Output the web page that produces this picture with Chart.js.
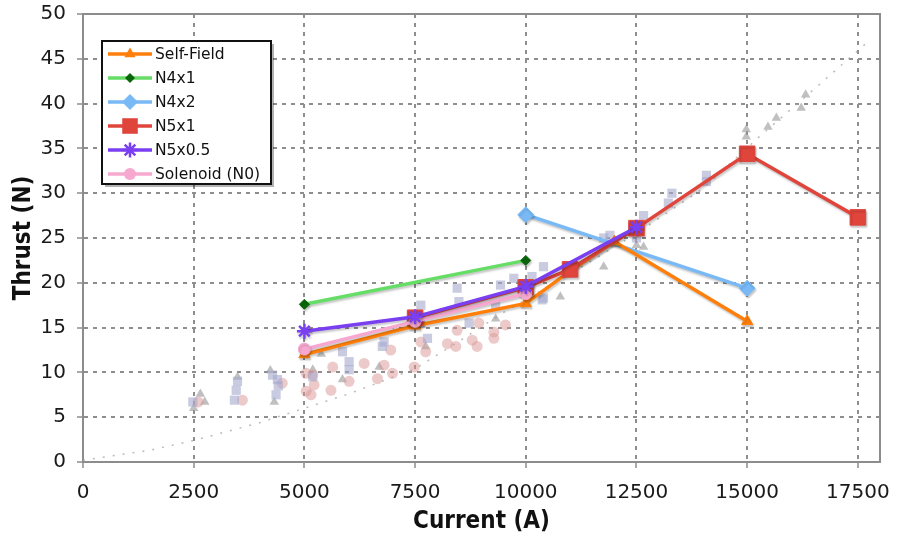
<!DOCTYPE html>
<html>
<head>
<meta charset="utf-8">
<script src="https://cdn.jsdelivr.net/npm/chart.js@4"></script>
<style>
  html, body { margin: 0; padding: 0; background: #fff; }
  #wrap { width: 897px; height: 539px; position: relative; }
</style>
</head>
<body>
<div id="wrap"><canvas id="c"></canvas></div>
<script>
// Thrust vs. current for each applied-field configuration
const selfFieldI = [5000, 7500, 10000, 11000, 12000, 15000];
const selfFieldT = [12.0, 15.2, 17.7, 21.3, 24.6, 15.7];

const n4x1I = [5000, 10000];
const n4x1T = [17.6, 22.5];

const n4x2I = [10000, 15000];
const n4x2T = [27.6, 19.4];

const n5x1I = [7500, 10000, 11000, 12500, 15000, 17500];
const n5x1T = [16.1, 19.5, 21.5, 26.1, 34.4, 27.3];

const n5x05I = [5000, 7500, 10000, 12500];
const n5x05T = [14.6, 16.2, 19.6, 26.2];

const solenoidI = [5000, 7500, 10000];
const solenoidT = [12.6, 15.7, 18.8];

// Earlier measurements shown faintly underneath
const olderTriI = [2650, 2750, 2500, 3490, 4230, 4320, 5190, 5380, 5860, 6690, 7740, 9320, 10780, 11760, 12500, 12660, 14980, 14980, 15470, 15660, 16220, 16320];
const olderTriT = [7.6, 6.7, 6.0, 9.5, 10.2, 6.7, 10.3, 12.05, 9.2, 10.6, 12.9, 16.0, 18.45, 21.8, 24.2, 24.0, 37.1, 36.3, 37.4, 38.4, 39.5, 41.0];

const olderSqI = [2480, 3490, 3460, 3420, 4280, 4390, 4410, 4360, 5190, 5860, 6010, 6010, 6800, 6760, 7630, 7630, 7780, 8450, 8490, 8720, 9320, 9430, 9730, 10140, 10370, 10400, 10400, 11760, 11900, 12500, 12660, 13220, 13300, 14080, 14080];
const olderSqT = [6.7, 9.0, 8.0, 6.9, 9.7, 9.2, 8.5, 7.5, 9.5, 12.3, 11.2, 10.3, 13.4, 12.9, 17.5, 15.5, 13.8, 19.4, 17.9, 15.5, 17.5, 19.75, 20.5, 20.7, 18.1, 21.8, 18.3, 25.0, 25.3, 25.0, 27.5, 28.9, 30.0, 32.0, 31.3];

const olderCirI = [2600, 3600, 4500, 5040, 5190, 5220, 5040, 5150, 5640, 5600, 6010, 6350, 6650, 6800, 6950, 6990, 7480, 7630, 7740, 8230, 8450, 8420, 8790, 8900, 8940, 9280, 9280, 9540];
const olderCirT = [6.7, 6.9, 8.8, 9.9, 9.7, 8.6, 7.9, 7.5, 10.6, 8.0, 9.0, 11.0, 9.3, 10.8, 12.5, 9.9, 10.6, 13.4, 12.3, 13.2, 14.7, 12.9, 13.6, 12.9, 15.5, 14.5, 13.8, 15.3];

// Faint dotted reference curve
const refCurveI = [0, 1500, 2500, 4000, 5000, 6000, 7500, 8500, 9500, 11000, 12500, 14000, 15250, 16600, 17750];
const refCurveT = [0.2, 1.3, 2.4, 4.4, 6.0, 7.6, 10.4, 13.5, 16.7, 21.0, 25.5, 30.5, 36.2, 42.0, 47.0];

const xTicks = [0, 2500, 5000, 7500, 10000, 12500, 15000, 17500];
const yTicks = [0, 5, 10, 15, 20, 25, 30, 35, 40, 45, 50];

const pts = (xs, ys) => xs.map((x, i) => ({ x: x, y: ys[i] }));

function series(label, xs, ys, line, marker, style, radius, order) {
  return {
    label: label,
    data: pts(xs, ys),
    borderColor: line,
    backgroundColor: marker,
    pointBackgroundColor: marker,
    pointBorderColor: marker,
    pointStyle: style,
    pointRadius: radius,
    pointBorderWidth: style === 'star' ? 2.5 : 1,
    borderWidth: 3.5,
    tension: 0,
    order: order,
    showLine: true,
    inLegend: true
  };
}

function faint(xs, ys, color, style, radius) {
  return {
    label: '',
    data: pts(xs, ys),
    showLine: false,
    pointStyle: style,
    pointRadius: radius,
    pointBackgroundColor: color,
    pointBorderColor: color,
    pointBorderWidth: 0,
    order: 50,
    inLegend: false
  };
}

const datasets = [
  series('Self-Field', selfFieldI, selfFieldT, '#ff7f0a', '#ff7f0a', 'triangle', 6.5, 4),
  series('N4x1', n4x1I, n4x1T, '#66dd66', '#0b650b', 'rectRot', 5, 5),
  series('N4x2', n4x2I, n4x2T, '#78b9f6', '#78b9f6', 'rectRot', 8, 6),
  series('N5x1', n5x1I, n5x1T, '#e0453c', '#e0453c', 'rect', 11, 3),
  series('N5x0.5', n5x05I, n5x05T, '#7b3ff2', '#7b3ff2', 'star', 7.5, 1),
  series('Solenoid (N0)', solenoidI, solenoidT, '#f7a8d0', '#f7a8d0', 'circle', 6, 2),
  faint(olderSqI, olderSqT, 'rgba(165,168,205,0.6)', 'rect', 6.5),
  faint(olderCirI, olderCirT, 'rgba(220,150,150,0.5)', 'circle', 5.5),
  faint(olderTriI, olderTriT, 'rgba(150,150,150,0.6)', 'triangle', 5.5),
  {
    label: '',
    data: pts(refCurveI, refCurveT),
    showLine: true,
    borderColor: 'rgba(170,170,170,0.8)',
    borderWidth: 1.5,
    borderDash: [2, 8],
    pointRadius: 0,
    order: 60,
    inLegend: false
  }
];

// Drop shadow under the main series
const shadowPlugin = {
  id: 'markerShadow',
  beforeDatasetDraw(chart, args) {
    const ds = chart.data.datasets[args.index];
    if (!ds.inLegend) return;
    const ctx = chart.ctx;
    ctx.save();
    ctx.shadowColor = 'rgba(0,0,0,0.22)';
    ctx.shadowOffsetX = 1;
    ctx.shadowOffsetY = 2;
    ctx.shadowBlur = 2;
  },
  afterDatasetDraw(chart, args) {
    const ds = chart.data.datasets[args.index];
    if (!ds.inLegend) return;
    chart.ctx.restore();
  }
};

// Plot frame on the top and right sides
const framePlugin = {
  id: 'frame',
  afterDraw(chart) {
    const a = chart.chartArea, ctx = chart.ctx;
    ctx.save();
    ctx.strokeStyle = '#8c8c8c';
    ctx.lineWidth = 2;
    ctx.beginPath();
    ctx.moveTo(a.left, a.top);
    ctx.lineTo(a.right, a.top);
    ctx.lineTo(a.right, a.bottom);
    ctx.stroke();
    ctx.restore();
  }
};

function drawMarker(ctx, style, x, y, r, color, bw) {
  ctx.save();
  ctx.fillStyle = color;
  ctx.strokeStyle = color;
  ctx.lineWidth = bw;
  ctx.beginPath();
  if (style === 'triangle') {
    for (let k = 0; k < 3; k++) {
      const ang = -Math.PI / 2 + k * 2 * Math.PI / 3;
      const px = x + Math.cos(ang) * r, py = y + Math.sin(ang) * r;
      if (k === 0) ctx.moveTo(px, py); else ctx.lineTo(px, py);
    }
    ctx.closePath(); ctx.fill();
  } else if (style === 'rectRot') {
    ctx.moveTo(x, y - r); ctx.lineTo(x + r, y); ctx.lineTo(x, y + r); ctx.lineTo(x - r, y);
    ctx.closePath(); ctx.fill();
  } else if (style === 'rect') {
    const s = r * Math.SQRT1_2;
    ctx.rect(x - s, y - s, 2 * s, 2 * s); ctx.fill();
  } else if (style === 'circle') {
    ctx.arc(x, y, r, 0, Math.PI * 2); ctx.fill();
  } else if (style === 'star') {
    for (let k = 0; k < 4; k++) {
      const ang = k * Math.PI / 4;
      ctx.moveTo(x - Math.cos(ang) * r, y - Math.sin(ang) * r);
      ctx.lineTo(x + Math.cos(ang) * r, y + Math.sin(ang) * r);
    }
    ctx.stroke();
  }
  ctx.restore();
}

// Boxed legend in the upper-left corner of the plot
const legendPlugin = {
  id: 'boxLegend',
  afterDraw(chart) {
    const ctx = chart.ctx;
    const items = chart.data.datasets.filter(d => d.inLegend);
    const bx = 102, by = 41, bw = 169, bh = 143;
    ctx.save();
    ctx.fillStyle = 'rgba(0,0,0,0.3)';
    ctx.fillRect(bx + 3, by + 3, bw, bh);
    ctx.fillStyle = '#fff';
    ctx.fillRect(bx, by, bw, bh);
    ctx.strokeStyle = '#111';
    ctx.lineWidth = 2;
    ctx.strokeRect(bx, by, bw, bh);
    ctx.font = '15.5px "DejaVu Sans"';
    ctx.textBaseline = 'middle';
    ctx.textAlign = 'left';
    items.forEach((d, i) => {
      const y = 54 + i * 24;
      ctx.strokeStyle = d.borderColor;
      ctx.lineWidth = 3.5;
      ctx.beginPath();
      ctx.moveTo(108, y);
      ctx.lineTo(152, y);
      ctx.stroke();
      drawMarker(ctx, d.pointStyle, 130, y, d.pointRadius, d.pointBackgroundColor, d.pointBorderWidth);
      ctx.fillStyle = '#111';
      ctx.fillText(d.label, 155, y + 1);
    });
    ctx.restore();
  }
};

const gridStyle = { color: '#8e8e8e', lineWidth: 2, tickLength: 6, tickColor: '#8c8c8c', tickWidth: 1.5 };
const borderStyle = { display: true, color: '#8c8c8c', width: 2, dash: [4, 5] };

new Chart(document.getElementById('c'), {
  type: 'scatter',
  data: { datasets: datasets },
  options: {
    responsive: true,
    maintainAspectRatio: false,
    animation: false,
    layout: { padding: { top: 14, right: 17, left: 0, bottom: 0 } },
    plugins: { legend: { display: false }, tooltip: { enabled: false } },
    scales: {
      x: {
        type: 'linear',
        min: 0,
        max: 18000,
        afterBuildTicks(scale) { scale.ticks = xTicks.map(v => ({ value: v })); },
        afterFit(scale) { scale.height = 77; scale.paddingLeft = 0; scale.paddingRight = 0; },
        ticks: {
          font: { family: 'DejaVu Sans', size: 20 },
          color: '#1a1a1a',
          padding: 13,
          maxRotation: 0,
          callback: v => String(v)
        },
        grid: gridStyle,
        border: borderStyle,
        title: {
          display: true,
          text: 'Current (A)',
          font: { family: 'DejaVu Sans Condensed', weight: 'bold', size: 24 },
          color: '#111',
          padding: { top: 0, bottom: 3 }
        }
      },
      y: {
        type: 'linear',
        min: 0,
        max: 50,
        afterBuildTicks(scale) { scale.ticks = yTicks.map(v => ({ value: v })); },
        afterFit(scale) { scale.width = 83; scale.paddingTop = 0; scale.paddingBottom = 0; },
        ticks: {
          font: { family: 'DejaVu Sans', size: 20 },
          color: '#1a1a1a',
          padding: 11
        },
        grid: gridStyle,
        border: borderStyle,
        title: {
          display: true,
          text: 'Thrust (N)',
          font: { family: 'DejaVu Sans Condensed', weight: 'bold', size: 24 },
          color: '#111',
          padding: { top: 9, bottom: 0 }
        }
      }
    }
  },
  plugins: [shadowPlugin, framePlugin, legendPlugin]
});
</script>
</body>
</html>
